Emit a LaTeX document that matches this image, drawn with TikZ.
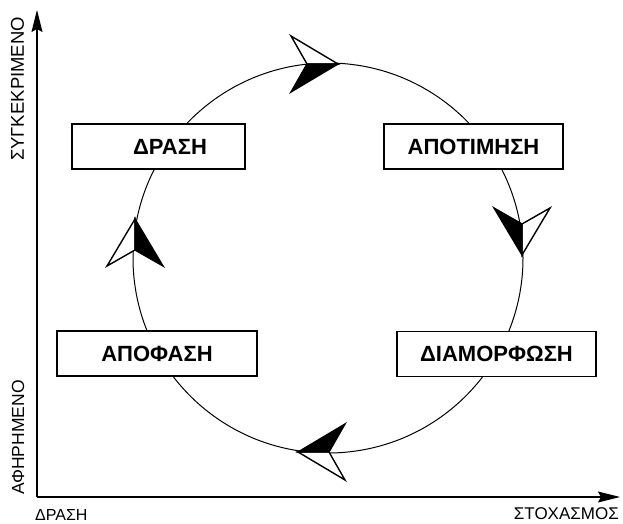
\documentclass[tikz,border=0pt]{standalone}
\usepackage{fontspec}
\setmainfont{Liberation Sans}
\usetikzlibrary{arrows.meta}
\tikzset{
  x=1pt, y=1pt,
  axisline/.style={line width=1.3pt, -{Stealth[length=22pt, width=11pt, inset=3pt]}},
  stagebox/.style={draw, fill=white, line width=1.3pt, minimum height=45pt, inner sep=0pt,
    font=\fontsize{22}{26}\bfseries\selectfont},
  stagetext/.style={inner sep=0pt, font=\fontsize{22}{26}\bfseries\selectfont},
  axislabel/.style={inner sep=0pt},
  flecha/.pic={
    \draw[line width=1.4pt, fill=white, line join=miter] (0,0) -- (-47,28) -- (-31,0) -- cycle;
    \draw[line width=1.4pt, fill=black, line join=miter] (0,0) -- (-31,0) -- (-47,-28) -- cycle;
  }
}
\begin{document}
\begin{tikzpicture}
\useasboundingbox (0,0) rectangle (623,524);
% axes
\coordinate (O) at (37,27);
\coordinate (ytip) at (37,514);
\coordinate (xtip) at (620,27);
\draw[axisline] (O) -- (ytip);
\draw[axisline] (O) -- (xtip);
% axis labels
\node[axislabel, anchor=base east, font=\fontsize{17}{20}\selectfont] (stoxasmos) at (619,5) {ΣΤΟΧΑΣΜΟΣ};
\node[axislabel, anchor=base west, font=\fontsize{16}{19}\selectfont] (drasiaxis) at (35,3.5) {ΔΡΑΣΗ};
\node[axislabel, rotate=90, font=\fontsize{18.5}{22}\selectfont] (synkekrimeno) at (17.5,435) {ΣΥΓΚΕΚΡΙΜΕΝΟ};
\node[axislabel, rotate=90, font=\fontsize{17.5}{21}\selectfont] (afirimeno) at (18,86.5) {ΑΦΗΡΗΜΕΝΟ};
% cycle
\node[circle, draw, line width=1pt, minimum size=390pt, inner sep=0pt] (ciclo) at (328,266) {};
% stage boxes
\node[stagebox, minimum width=173pt] (drasi) at (158.5,377.5) {};
\node[stagetext] (drasitxt) at (170,377.5) {ΔΡΑΣΗ};
\node[stagebox, minimum width=179pt] (apotimisi) at (473.5,377.5) {ΑΠΟΤΙΜΗΣΗ};
\node[stagebox, minimum width=200pt] (apofasi) at (157,170.5) {ΑΠΟΦΑΣΗ};
\node[stagebox, minimum width=199pt] (diamorfosi) at (496.5,170) {ΔΙΑΜΟΡΦΩΣΗ};
% direction arrows
\pic at (338,460) {flecha};
\pic[rotate=-90] at (522,269) {flecha};
\pic[rotate=180] at (298,72) {flecha};
\pic[rotate=90] at (135,305) {flecha};
\end{tikzpicture}
\end{document}
